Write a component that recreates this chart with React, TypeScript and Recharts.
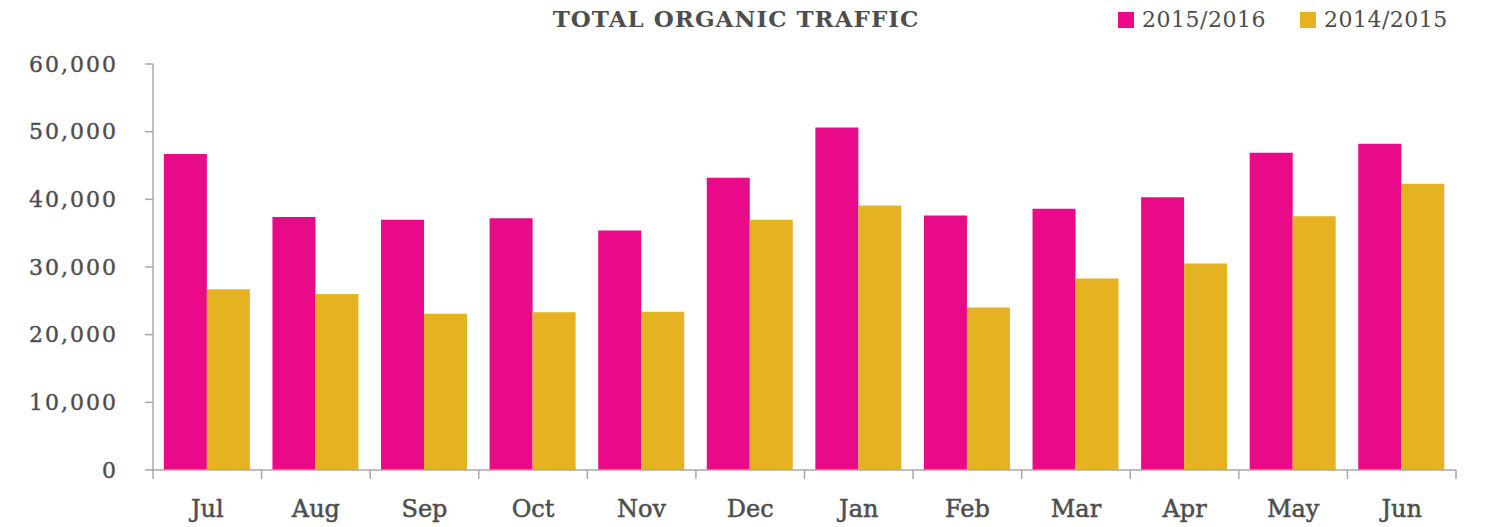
import { Bar, BarChart, XAxis, YAxis } from "recharts";

const months = ["Jul", "Aug", "Sep", "Oct", "Nov", "Dec", "Jan", "Feb", "Mar", "Apr", "May", "Jun"];
const season1516 = [46700, 37400, 37000, 37200, 35400, 43200, 50600, 37600, 38600, 40300, 46900, 48200];
const season1415 = [26700, 26000, 23100, 23300, 23400, 37000, 39100, 24000, 28300, 30500, 37500, 42300];
const yTicks = [0, 10000, 20000, 30000, 40000, 50000, 60000];

const PINK = "#e90a8a";
const GOLD = "#e5b222";
const TEXT = "#4d4d4d";
const AXIS = "#a8a8a8";
const FONT = "'DejaVu Serif', serif";

const data = months.map((m, i) => ({ month: m, a: season1516[i], b: season1415[i] }));

function MonthTick(props: any) {
  const { x, y, payload } = props;
  const half = payload?.offset ?? 54.3;
  const last = payload?.index === months.length - 1;
  return (
    <g>
      <line x1={x - half} x2={x - half} y1={y} y2={y + 9} stroke={AXIS} strokeWidth={1.5} />
      {last && <line x1={x + half} x2={x + half} y1={y} y2={y + 9} stroke={AXIS} strokeWidth={1.5} />}
      <text
        x={x}
        y={y + 47}
        textAnchor="middle"
        fill={TEXT}
        stroke={TEXT}
        strokeWidth={0.5}
        fontSize={24}
        fontFamily={FONT}
      >
        {payload.value}
      </text>
    </g>
  );
}

function LegendBox() {
  const items = [
    { label: "2015/2016", color: PINK },
    { label: "2014/2015", color: GOLD },
  ];
  return (
    <div
      style={{
        position: "absolute",
        left: 1118,
        top: 7,
        display: "flex",
        gap: 34,
        whiteSpace: "nowrap",
      }}
    >
      {items.map((it) => (
        <span key={it.label} style={{ display: "inline-flex", alignItems: "center", gap: 8 }}>
          <span style={{ width: 16, height: 16, background: it.color, display: "inline-block" }} />
          <span style={{ fontFamily: FONT, fontSize: 22, color: TEXT, letterSpacing: 0.5 }}>{it.label}</span>
        </span>
      ))}
    </div>
  );
}

export default function App() {
  return (
    <div style={{ position: "absolute", left: 0, top: 0, width: 1486, height: 527, background: "#fff" }}>
      <div
        style={{
          position: "absolute",
          left: 0,
          top: 5,
          width: 1472,
          textAlign: "center",
          fontFamily: FONT,
          fontWeight: "bold",
          fontSize: 23,
          color: TEXT,
          letterSpacing: 1,
        }}
      >
        TOTAL ORGANIC TRAFFIC
      </div>
      <LegendBox />
      <BarChart
        width={1486}
        height={527}
        data={data}
        margin={{ top: 64, right: 30, left: 0, bottom: 0 }}
        barCategoryGap="10%"
        barGap={0}
      >
        <XAxis
          dataKey="month"
          height={57}
          axisLine={{ stroke: AXIS, strokeWidth: 1.5 }}
          tickLine={false}
          tickSize={0}
          tickMargin={0}
          interval={0}
          tick={<MonthTick />}
        />
        <YAxis
          width={153}
          domain={[0, 60000]}
          ticks={yTicks}
          interval={0}
          tickFormatter={(v: number) => v.toLocaleString("en-US")}
          axisLine={{ stroke: AXIS, strokeWidth: 1.5 }}
          tickLine={{ stroke: AXIS, strokeWidth: 1.5 }}
          tickSize={8}
          tickMargin={27}
          tick={{ fill: TEXT, stroke: TEXT, strokeWidth: 0.4, fontSize: 22, fontFamily: FONT, letterSpacing: 2 }}
        />
        <Bar dataKey="a" name="2015/2016" fill={PINK} isAnimationActive={false} />
        <Bar dataKey="b" name="2014/2015" fill={GOLD} isAnimationActive={false} />
      </BarChart>
    </div>
  );
}
